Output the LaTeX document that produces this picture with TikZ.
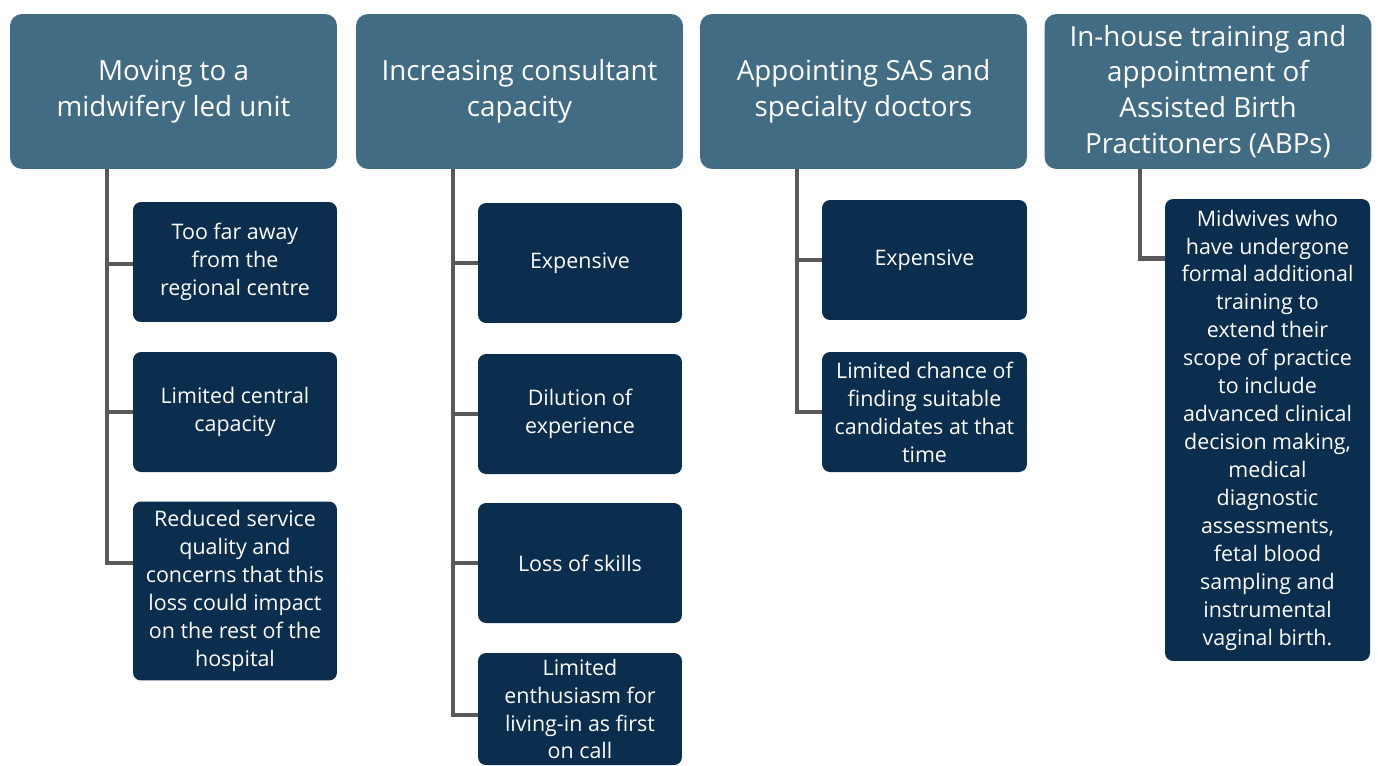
\documentclass[tikz,border=0pt]{standalone}
\usepackage{fontspec}
\setmainfont{Open Sans}
\definecolor{headblue}{HTML}{416C84}
\definecolor{itemnavy}{HTML}{0B2D4E}
\definecolor{linkgray}{HTML}{595959}
\tikzset{
  head/.style={fill=headblue, rounded corners=0.24cm, text=white, minimum width=6.54cm, minimum height=3.1cm, align=center, font=\fontsize{15.8}{20.4}\selectfont},
  item/.style={fill=itemnavy, rounded corners=0.16cm, text=white, minimum width=4.08cm, minimum height=2.4cm, align=center, font=\fontsize{12.2}{15.9}\selectfont},
  link/.style={draw=linkgray, line width=2.8pt}
}
\begin{document}
\begin{tikzpicture}[x=0.02cm, y=-0.02cm]
    \useasboundingbox (0,0) rectangle (1378,765);
    % Headers
    \node[head] (h1) at (173.5,91.5) {Moving to a\\midwifery led unit};
    \node[head] (h2) at (519.5,91.5) {Increasing consultant\\capacity};
    \node[head] (h3) at (863.5,91.5) {Appointing SAS and\\specialty doctors};
    \node[head] (h4) at (1208,91.5) {In-house training and\\appointment of\\Assisted Birth\\Practitoners (ABPs)};
    % Items
    \node[item] (a1) at (235,262) {Too far away\\from the\\regional centre};
    \node[item] (a2) at (235,412) {Limited central\\capacity};
    \node[item, minimum height=3.58cm] (a3) at (235,591) {Reduced service\\quality and\\concerns that this\\loss could impact\\on the rest of the\\hospital};
    \node[item] (b1) at (580,263) {Expensive};
    \node[item] (b2) at (580,414) {Dilution of\\experience};
    \node[item] (b3) at (580,563) {Loss of skills};
    \node[item, minimum height=2.24cm] (b4) at (580,709) {Limited\\enthusiasm for\\living-in as first\\on call};
    \node[item, minimum width=4.1cm] (c1) at (924.5,260) {Expensive};
    \node[item, minimum width=4.1cm] (c2) at (924.5,412) {Limited chance of\\finding suitable\\candidates at that\\time};
    \node[item, minimum width=4.1cm, minimum height=9.24cm] (d1) at (1267.5,430) {Midwives who\\have undergone\\formal additional\\training to\\extend their\\scope of practice\\to include\\advanced clinical\\decision making,\\medical\\diagnostic\\assessments,\\fetal blood\\sampling and\\instrumental\\vaginal birth.};
    % Edges
    \coordinate (s1) at ([xshift=-1.33cm]h1.south);
    \coordinate (s2) at ([xshift=-1.33cm]h2.south);
    \coordinate (s3) at ([xshift=-1.33cm]h3.south);
    \coordinate (s4) at ([xshift=-1.36cm]h4.south);
    \draw[link] (s1) |- ([yshift=-0.04cm]a1.west);
    \draw[link] (s1) |- (a2.west);
    \draw[link] (s1) |- ([yshift=0.56cm]a3.west);
    \draw[link] (s2) |- (b1.west);
    \draw[link] (s2) |- (b2.west);
    \draw[link] (s2) |- (b3.west);
    \draw[link] (s2) |- ([yshift=-0.12cm]b4.west);
    \draw[link] (s3) |- (c1.west);
    \draw[link] (s3) |- (c2.west);
    \draw[link] (s4) |- ([yshift=3.44cm]d1.west);
\end{tikzpicture}
\end{document}
